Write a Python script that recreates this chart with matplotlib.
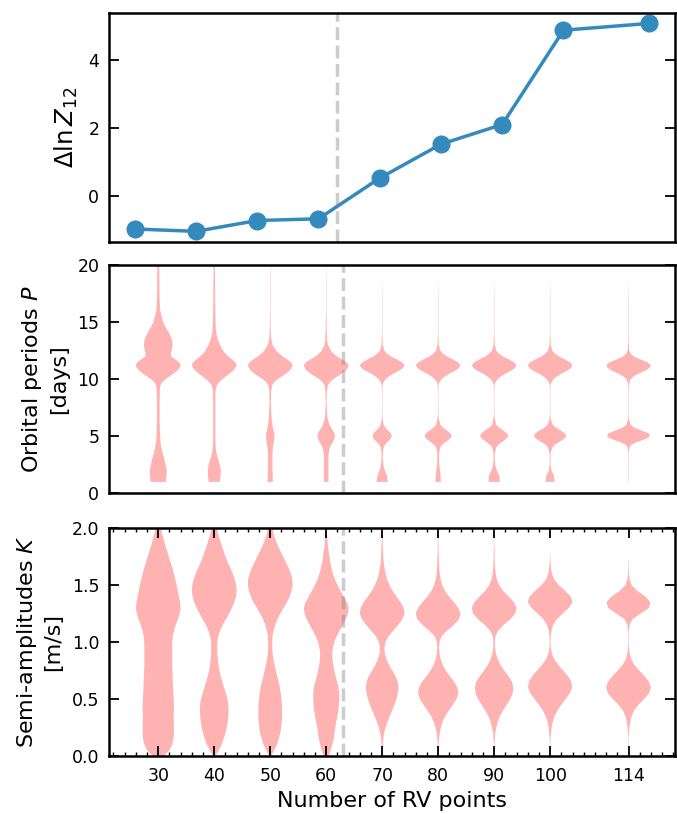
import numpy as np
import matplotlib
matplotlib.use("Agg")
import matplotlib.pyplot as plt
from matplotlib.ticker import MultipleLocator

# ---------------- data ----------------
n_points = [30, 40, 50, 60, 70, 80, 90, 100, 114]
n_labels = ["30", "40", "50", "60", "70", "80", "90", "100", "114"]
delta_lnz = [-0.98, -1.05, -0.73, -0.68, 0.52, 1.52, 2.10, 4.88, 5.08]
threshold = 63

# period grid (days) and relative violin half-widths
p_grid = [1.0, 1.5, 2.0, 2.5, 3.0, 3.5, 4.0, 4.25, 4.5, 4.75, 5.0, 5.25, 5.5, 5.75, 6.0,
          6.5, 7.0, 8.0, 9.0, 9.5, 9.75, 10.0, 10.25, 10.5, 10.75, 11.0, 11.25, 11.5, 11.75,
          12.0, 12.25, 12.5, 13.0, 13.5, 14.0, 14.5, 15.0, 16.0, 17.0, 18.0, 19.0, 20.0]
p30 = [.34, .37, .38, .33, .27, .20, .14, .12, .10, .09, .08, .08, .07, .07, .07,
       .06, .06, .06, .07, .10, .18, .32, .50, .68, .84, .95, 1.0, .94, .76,
       .58, .56, .60, .64, .61, .50, .35, .22, .09, .06, .05, .05, .04]
p40 = [.25, .28, .29, .25, .17, .10, .07, .06, .05, .05, .05, .05, .05, .05, .05,
       .05, .05, .05, .06, .12, .22, .36, .52, .68, .84, .95, 1.0, .94, .80,
       .64, .50, .40, .26, .16, .10, .07, .06, .05, .04, .04, .03, .03]
p50 = [.12, .11, .10, .10, .10, .10, .12, .14, .16, .18, .19, .18, .15, .12, .10,
       .07, .05, .03, .04, .09, .18, .33, .52, .70, .86, .96, 1.0, .92, .76,
       .56, .40, .27, .11, .05, .03, .02, .02, .01, .01, .01, .01, .005]
p60 = [.10, .10, .10, .10, .10, .11, .16, .22, .30, .36, .39, .37, .30, .22, .15,
       .07, .04, .02, .03, .08, .17, .31, .50, .69, .86, .96, 1.0, .90, .70,
       .49, .33, .21, .08, .04, .03, .02, .02, .01, .01, .01, .005, .005]
p70 = [.25, .22, .12, .05, .03, .03, .06, .12, .24, .37, .43, .39, .27, .15, .07,
       .02, .01, .01, .01, .02, .06, .15, .30, .50, .75, .93, 1.0, .88, .66,
       .40, .22, .10, .03, .02, .01, .01, .01, .01, .01, .005, 0, 0]
p80 = [.12, .11, .08, .05, .04, .04, .09, .18, .34, .50, .61, .56, .40, .22, .10,
       .03, .01, .01, .01, .02, .06, .15, .30, .50, .75, .93, 1.0, .88, .66,
       .40, .22, .10, .03, .02, .01, .01, .01, .01, .01, .005, 0, 0]
p90 = [.25, .24, .12, .05, .03, .03, .09, .18, .35, .52, .63, .58, .42, .23, .10,
       .03, .01, .01, .01, .02, .06, .15, .30, .50, .75, .93, 1.0, .88, .66,
       .40, .22, .10, .03, .02, .01, .01, .01, .01, .01, .005, 0, 0]
p100 = [.20, .18, .06, .02, .02, .02, .09, .20, .40, .60, .73, .67, .48, .27, .12,
        .03, .01, .01, .01, .02, .06, .15, .30, .50, .75, .93, 1.0, .88, .66,
        .40, .22, .10, .03, .02, .01, .01, .01, .01, .01, .005, 0, 0]
p114 = [.01, .01, .01, .01, .01, .01, .04, .12, .38, .75, .96, .91, .60, .28, .10,
        .02, .01, .01, .01, .02, .04, .09, .22, .45, .74, .93, 1.0, .84, .52,
        .24, .10, .04, .02, .01, .01, .01, .01, .01, .01, .005, 0, 0]
period_profiles = [p30, p40, p50, p60, p70, p80, p90, p100, p114]

# semi-amplitude grid (m/s) and relative violin half-widths
k_grid = [0.00, 0.05, 0.10, 0.15, 0.20, 0.25, 0.30, 0.35, 0.40, 0.45, 0.50, 0.55, 0.60,
          0.65, 0.70, 0.75, 0.80, 0.85, 0.90, 0.95, 1.00, 1.05, 1.10, 1.15, 1.20, 1.25,
          1.30, 1.35, 1.40, 1.45, 1.50, 1.55, 1.60, 1.65, 1.70, 1.75, 1.80, 1.85, 1.90,
          1.95, 2.00]
k30 = [.25, .50, .62, .68, .70, .70, .69, .68, .70, .70, .69, .67, .66,
       .65, .64, .63, .62, .62, .62, .62, .63, .65, .70, .78, .88, .96,
       1.0, .97, .92, .87, .82, .76, .70, .63, .55, .47, .39, .31, .24,
       .17, .12]
k40 = [.05, .20, .33, .42, .50, .56, .60, .63, .64, .63, .59, .52, .44,
       .36, .29, .23, .19, .16, .14, .13, .14, .18, .26, .38, .52, .66,
       .79, .90, .97, 1.0, .98, .92, .83, .72, .60, .50, .42, .33, .25,
       .17, .12]
k50 = [.04, .18, .30, .38, .45, .49, .52, .53, .53, .52, .50, .47, .43,
       .37, .31, .25, .19, .14, .11, .09, .09, .10, .15, .22, .32, .45,
       .60, .75, .87, .95, 1.0, .99, .92, .82, .70, .58, .45, .33, .23,
       .15, .10]
k60 = [.12, .20, .27, .33, .37, .40, .45, .50, .54, .57, .58, .58, .55,
       .49, .42, .36, .31, .28, .27, .30, .36, .47, .60, .74, .87, .97,
       1.0, .92, .78, .63, .50, .39, .30, .24, .18, .14, .11, .07, .05,
       .03, .02]
k70 = [0, .01, .03, .05, .09, .15, .24, .34, .45, .55, .64, .70, .73,
       .70, .60, .45, .30, .19, .12, .10, .15, .28, .50, .72, .90, 1.0,
       .96, .82, .64, .46, .32, .22, .15, .10, .07, .05, .04, .03, .02,
       .01, 0]
k80 = [0, 0, .02, .04, .07, .12, .20, .32, .48, .66, .82, .90, .86,
       .72, .52, .34, .20, .11, .06, .04, .06, .15, .40, .70, .93, 1.0,
       .90, .70, .48, .30, .18, .11, .07, .05, .04, .03, .02, .02, .01,
       .01, 0]
k90 = [0, 0, .01, .03, .05, .10, .16, .26, .40, .56, .72, .83, .86,
       .80, .64, .45, .28, .16, .08, .04, .03, .06, .18, .42, .72, .94,
       1.0, .88, .64, .40, .22, .12, .07, .04, .03, .02, .02, .01, .01,
       .01, 0]
k100 = [0, 0, .01, .02, .04, .07, .12, .20, .33, .50, .70, .88, .98,
        .95, .80, .58, .36, .18, .08, .03, .02, .03, .06, .14, .30, .56,
        .84, 1.0, .92, .66, .38, .18, .08, .04, .02, .01, 0, 0, 0,
        0, 0]
k114 = [0, 0, .01, .01, .02, .04, .08, .14, .25, .45, .70, .92, 1.0,
        .92, .72, .48, .26, .12, .05, .02, .01, .01, .02, .05, .18, .55,
        .92, .98, .75, .38, .14, .05, .02, .01, .01, 0, 0, 0, 0,
        0, 0]
amplitude_profiles = [k30, k40, k50, k60, k70, k80, k90, k100, k114]


def make_stats(grid, profile):
    grid = np.asarray(grid, dtype=float)
    vals = np.asarray(profile, dtype=float)
    return {"coords": grid, "vals": vals, "mean": grid.mean(), "median": np.median(grid),
            "min": grid.min(), "max": grid.max()}


# ---------------- figure ----------------
plt.rcParams["font.family"] = ["DejaVu Sans"]
plt.rcParams["mathtext.fontset"] = "dejavusans"

TICK_FS = 12.5
LABEL_FS = 16

fig = plt.figure(figsize=(6.77, 8.14), dpi=100)
L, W = 0.161, 0.836
ax1 = fig.add_axes([L, 0.703, W, 0.281])
ax2 = fig.add_axes([L, 0.394, W, 0.280])
ax3 = fig.add_axes([L, 0.0713, W, 0.280])

blue = "#348ABD"
spine_lw = 1.8
for ax in (ax1, ax2, ax3):
    for s in ax.spines.values():
        s.set_linewidth(spine_lw)
    ax.tick_params(axis="y", which="major", direction="in", length=7, width=1.3,
                   left=True, right=True, labelsize=TICK_FS, pad=7)

# top panel
ax1.plot(n_points, delta_lnz, "-o", color=blue, lw=2.5, ms=12)
ax1.axvline(threshold, color="grey", alpha=0.4, ls="--", lw=2.5)
ax1.set_yticks([0, 2, 4])
ax1.tick_params(axis="x", bottom=False, top=False, labelbottom=False)
ax1.set_ylabel(r"$\Delta\ln Z_{12}$", fontsize=17.5, labelpad=6)

# middle panel: periods
vp = ax2.violin([make_stats(p_grid, pr) for pr in period_profiles], positions=n_points,
                widths=8, showmeans=False, showextrema=False, showmedians=False)
for body in vp["bodies"]:
    body.set_facecolor("red")
    body.set_edgecolor("none")
    body.set_alpha(0.3)
ax2.axvline(threshold, color="grey", alpha=0.4, ls="--", lw=2.5)
ax2.set_ylim(0, 20)
ax2.set_yticks([0, 5, 10, 15, 20])
ax2.set_xlim(21.2, 122.3)
ax2.tick_params(axis="x", bottom=False, top=False, labelbottom=False)
ax2.set_ylabel("Orbital periods $P$\n[days]", fontsize=LABEL_FS, labelpad=6,
               linespacing=1.3)

# bottom panel: semi-amplitudes
vk = ax3.violin([make_stats(k_grid, pr) for pr in amplitude_profiles], positions=n_points,
                widths=8, showmeans=False, showextrema=False, showmedians=False)
for body in vk["bodies"]:
    body.set_facecolor("red")
    body.set_edgecolor("none")
    body.set_alpha(0.3)
ax3.axvline(threshold, color="grey", alpha=0.4, ls="--", lw=2.5)
ax3.set_ylim(0, 2)
ax3.set_yticks([0.0, 0.5, 1.0, 1.5, 2.0])
ax3.set_yticklabels(["0.0", "0.5", "1.0", "1.5", "2.0"])
ax3.set_xlim(21.2, 122.3)
ax3.set_xticks(n_points)
ax3.set_xticklabels(n_labels)
ax3.xaxis.set_minor_locator(MultipleLocator(2))
ax3.tick_params(axis="x", which="major", direction="in", length=7, width=1.3,
                bottom=True, top=True, labelsize=TICK_FS, pad=8)
ax3.tick_params(axis="x", which="minor", direction="in", length=3, width=1.0,
                bottom=True, top=True)
ax3.set_ylabel("Semi-amplitudes $K$\n[m/s]", fontsize=LABEL_FS, labelpad=6,
               linespacing=1.3)
ax3.set_xlabel("Number of RV points", fontsize=LABEL_FS)

fig.savefig("out.png", dpi=100)
